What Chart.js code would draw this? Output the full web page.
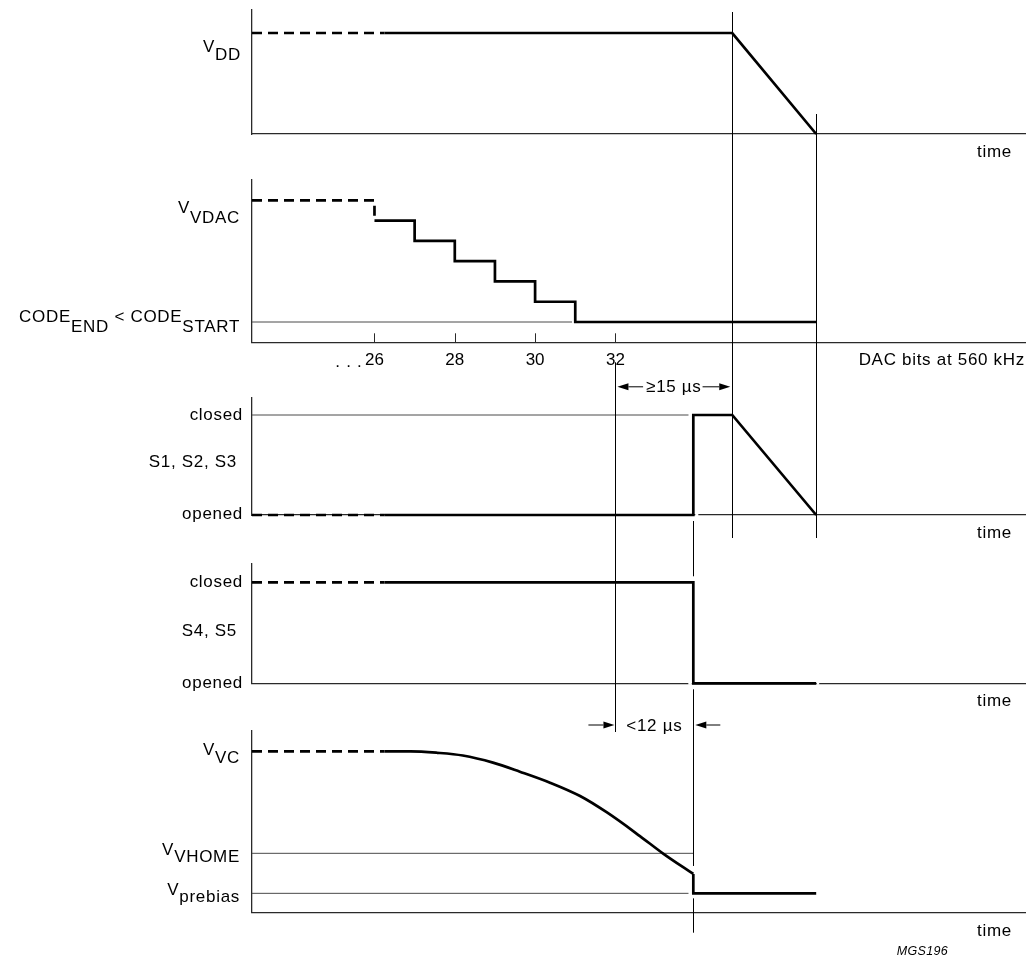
<!DOCTYPE html>
<html>
<head>
<meta charset="utf-8">
<script src="https://cdn.jsdelivr.net/npm/chart.js@4/dist/chart.umd.min.js"></script>
<style>
  html, body { margin: 0; padding: 0; background: #fff; }
  #wrap { position: relative; width: 1030px; height: 961px; }
  #wrap canvas { position: absolute; left: 0; top: 0; }
</style>
</head>
<body>
<div id="wrap">
  <canvas id="p0" width="1030" height="961"></canvas>
  <canvas id="p1" width="1030" height="961"></canvas>
  <canvas id="p2" width="1030" height="961"></canvas>
  <canvas id="p3" width="1030" height="961"></canvas>
  <canvas id="p4" width="1030" height="961"></canvas>
</div>
<script>
// time is counted in DAC bit periods (560 kHz), same axis for all five traces
var timeMin = 22.95;
var timeMax = 42.2;
var dashEnd = 26.25;

var vddTime = [26.25, 34.91, 37];
var vddLevel = [1, 1, 0];

var dacBits = [26, 27, 28, 29, 30, 31, 37];
var dacCode = [5, 4, 3, 2, 1, 0, 0];
var dacStart = 6;
var dacEnd = 0;
var dacTicks = [26, 28, 30, 32];

var s123Time = [26.25, 33.94, 33.94, 34.91, 37];
var s123State = [0, 0, 1, 1, 0];

var s45Time = [26.25, 33.94, 33.94, 37];
var s45State = [1, 1, 0, 0];

var vcTime = [26.25, 26.9, 27.56, 28.2, 28.95, 29.62, 30.37, 31.12, 31.79, 32.61, 33.18, 33.94];
var vcLevel = [1, 1, 0.991, 0.974, 0.93, 0.874, 0.806, 0.723, 0.621, 0.475, 0.368, 0.24];
var vcDropTime = [33.94, 33.94, 37];
var vcDropLevel = [0.24, 0.12, 0.12];
var vHome = 0.368;
var vPrebias = 0.12;

// event times
var tBit32 = 32;
var tSwitch = 33.94;
var tVddOff = 34.91;
var tVddZero = 37;

var FONT = "17px 'Liberation Sans', Arial, sans-serif";
var INK = '#000';
var AXIS = '#2a2a2a';
var REF = '#4a4a4a';

Chart.defaults.font.family = "'Liberation Sans', Arial, sans-serif";
Chart.defaults.font.size = 17;
Chart.defaults.color = '#000';

var charts = [];

function pts(xs, ys) {
  var out = [];
  for (var i = 0; i < xs.length; i++) {
    out.push({ x: xs[i], y: ys[i] });
  }
  return out;
}

function signal(xs, ys, dashed, stepped) {
  return {
    data: pts(xs, ys),
    borderColor: INK,
    borderWidth: 2.7,
    borderDash: dashed ? [10, 6] : [],
    borderJoinStyle: 'miter',
    stepped: !!stepped,
    pointRadius: 0,
    fill: false,
    tension: 0,
    clip: false
  };
}

function curve(xs, ys) {
  var ds = signal(xs, ys);
  ds.cubicInterpolationMode = 'monotone';
  return ds;
}

function refLine(x0, x1, y) {
  return {
    data: pts([x0, x1], [y, y]),
    borderColor: REF,
    borderWidth: 1,
    pointRadius: 0,
    fill: false,
    clip: false
  };
}

var panels = [
  {
    top: 10, bottom: 134, yMin: 0, yMax: 1.228,
    datasets: [signal([timeMin, dashEnd], [1, 1], true), signal(vddTime, vddLevel)],
    labels: [{ parts: [['V', 0], ['DD', 8]], at: 1, dy: 19, right: 241 }],
    title: { text: 'time', right: 1012 }
  },
  {
    top: 180, bottom: 342.3, yMin: -1, yMax: 7,
    datasets: [
      signal([timeMin, 26, 26], [dacStart, dacStart, dacCode[0]], true),
      signal(dacBits, dacCode, false, true),
      refLine(timeMin, 30.92, dacEnd)
    ],
    labels: [
      { parts: [['V', 0], ['VDAC', 10]], at: dacStart, dy: 12.5, right: 240 },
      { parts: [['CODE', 0], ['END', 10], [' < CODE', 0], ['START', 10]], at: dacEnd, dy: 0, right: 240 }
    ],
    title: { text: 'DAC bits at 560 kHz', right: 1025 },
    ticks: dacTicks
  },
  {
    top: 398, bottom: 515, yMin: 0, yMax: 1.17,
    datasets: [
      signal([timeMin, dashEnd], [0, 0], true),
      signal(s123Time, s123State),
      refLine(timeMin, 33.82, 1)
    ],
    labels: [
      { parts: [['closed', 0]], at: 1, dy: 5, right: 243 },
      { parts: [['S1, S2, S3', 0]], at: 0.5, dy: 2, right: 237 },
      { parts: [['opened', 0]], at: 0, dy: 4, right: 243 }
    ],
    title: { text: 'time', right: 1012 },
    breaks: [[tSwitch, 2, 5]]
  },
  {
    top: 564, bottom: 683.3, yMin: 0, yMax: 1.181,
    datasets: [
      signal([timeMin, dashEnd], [1, 1], true),
      signal(s45Time, s45State)
    ],
    labels: [
      { parts: [['closed', 0]], at: 1, dy: 5, right: 243 },
      { parts: [['S4, S5', 0]], at: 0.5, dy: 3, right: 237 },
      { parts: [['opened', 0]], at: 0, dy: 4.5, right: 243 }
    ],
    title: { text: 'time', right: 1012 },
    breaks: [[tSwitch, -5, -1.6], [tVddZero, 0.6, 3]]
  },
  {
    top: 731, bottom: 912.7, yMin: 0, yMax: 1.126,
    datasets: [
      signal([timeMin, dashEnd], [1, 1], true),
      curve(vcTime, vcLevel),
      signal(vcDropTime, vcDropLevel),
      refLine(timeMin, tSwitch, vHome),
      refLine(timeMin, 33.82, vPrebias)
    ],
    labels: [
      { parts: [['V', 0], ['VC', 8]], at: 1, dy: 4, right: 240 },
      { parts: [['V', 0], ['VHOME', 7]], at: vHome, dy: 2, right: 240 },
      { parts: [['V', 0], ['prebias', 7]], at: vPrebias, dy: 2, right: 240 }
    ],
    title: { text: 'time', right: 1012 }
  }
];

// vertical timing guides: [panel, 'top' | 'bottom' | value, pixel nudge]
var guides = [
  { x: tVddOff, from: [0, 'top', 2], to: [2, 'bottom', 23] },
  { x: tVddZero, from: [0, 'bottom', -20], to: [2, 'bottom', 23] },
  { x: tBit32, from: [1, 'bottom', 20], to: [4, 'top', 1] },
  { x: tSwitch, from: [2, 'bottom', 6], to: [3, 1, -6] },
  { x: tSwitch, from: [3, 'bottom', 6], to: [4, 0.24, -8] },
  { x: tSwitch, from: [4, vPrebias, 5], to: [4, 'bottom', 20] }
];

var spans = [
  { from: tBit32, to: tVddOff, panel: 1, dy: 44.5, text: '\u226515 \u00b5s', outward: true },
  { from: tBit32, to: tSwitch, panel: 3, dy: 41.7, text: '<12 \u00b5s', outward: false }
];

function yAt(ref) {
  var c = charts[ref[0]];
  var y;
  if (ref[1] === 'top') {
    y = c.chartArea.top;
  } else if (ref[1] === 'bottom') {
    y = c.chartArea.bottom;
  } else {
    y = c.scales.y.getPixelForValue(ref[1]);
  }
  return y + ref[2];
}

function setText(ctx, font) {
  ctx.font = font || FONT;
  ctx.letterSpacing = '0.7px';
  ctx.fillStyle = INK;
  ctx.textAlign = 'left';
  ctx.textBaseline = 'alphabetic';
}

function arrow(ctx, fromX, toX, y) {
  var dir = toX > fromX ? 1 : -1;
  var head = 11;
  ctx.beginPath();
  ctx.moveTo(fromX, y);
  ctx.lineTo(toX - dir * head, y);
  ctx.stroke();
  ctx.beginPath();
  ctx.moveTo(toX, y);
  ctx.lineTo(toX - dir * head, y - 3.5);
  ctx.lineTo(toX - dir * head, y + 3.5);
  ctx.closePath();
  ctx.fill();
}

var panelText = {
  id: 'panelText',
  afterInit: function (chart, args, opts) {
    charts[opts.index] = chart;
  },
  afterLayout: function (chart) {
    // x scale was fitted with zero height; give its label clip box room again
    var xs = chart.scales.x;
    xs.bottom = xs.top + 60;
  },
  afterDraw: function (chart, args, opts) {
    var p = panels[opts.index];
    var ctx = chart.ctx;
    var yScale = chart.scales.y;
    var xScale = chart.scales.x;
    var area = chart.chartArea;
    ctx.save();

    // small white breaks in the axis next to the switching edges
    if (p.breaks) {
      ctx.strokeStyle = '#fff';
      ctx.lineWidth = 3;
      for (var b = 0; b < p.breaks.length; b++) {
        var bx = xScale.getPixelForValue(p.breaks[b][0]);
        ctx.beginPath();
        ctx.moveTo(bx + p.breaks[b][1], area.bottom);
        ctx.lineTo(bx + p.breaks[b][2], area.bottom);
        ctx.stroke();
      }
    }

    setText(ctx);
    for (var i = 0; i < p.labels.length; i++) {
      var lab = p.labels[i];
      var base = yScale.getPixelForValue(lab.at) + lab.dy;
      var total = 0;
      for (var j = 0; j < lab.parts.length; j++) {
        total += ctx.measureText(lab.parts[j][0]).width;
      }
      var x = lab.right - total;
      for (var j = 0; j < lab.parts.length; j++) {
        ctx.fillText(lab.parts[j][0], x, base + lab.parts[j][1]);
        x += ctx.measureText(lab.parts[j][0]).width;
      }
    }

    ctx.textAlign = 'right';
    ctx.fillText(p.title.text, p.title.right, area.bottom + 23);

    if (p.ticks) {
      ctx.strokeStyle = AXIS;
      ctx.lineWidth = 1;
      for (var k = 0; k < p.ticks.length; k++) {
        var tx = Math.round(xScale.getPixelForValue(p.ticks[k])) + 0.5;
        ctx.beginPath();
        ctx.moveTo(tx, area.bottom);
        ctx.lineTo(tx, area.bottom - 9);
        ctx.stroke();
      }
      ctx.fillText('. . .', xScale.getPixelForValue(p.ticks[0]) - 12, area.bottom + 24.5);
    }
    ctx.restore();
  }
};

var crossGuides = {
  id: 'crossGuides',
  afterDraw: function (chart) {
    var ctx = chart.ctx;
    var xScale = chart.scales.x;
    ctx.save();
    ctx.strokeStyle = INK;
    ctx.fillStyle = INK;
    ctx.lineWidth = 1;
    for (var i = 0; i < guides.length; i++) {
      var g = guides[i];
      var gx = Math.round(xScale.getPixelForValue(g.x)) + 0.5;
      ctx.beginPath();
      ctx.moveTo(gx, yAt(g.from));
      ctx.lineTo(gx, yAt(g.to));
      ctx.stroke();
    }

    setText(ctx);
    ctx.textAlign = 'center';
    for (var s = 0; s < spans.length; s++) {
      var sp = spans[s];
      var x1 = xScale.getPixelForValue(sp.from);
      var x2 = xScale.getPixelForValue(sp.to);
      var y = charts[sp.panel].chartArea.bottom + sp.dy;
      var mid = (x1 + x2) / 2;
      var half = ctx.measureText(sp.text).width / 2;
      ctx.fillText(sp.text, mid, y + 5.5);
      if (sp.outward) {
        arrow(ctx, mid - half - 3, x1 + 2, y);
        arrow(ctx, mid + half + 1, x2 - 2, y);
      } else {
        arrow(ctx, x1 - 27, x1 - 1, y);
        arrow(ctx, x2 + 27, x2 + 2, y);
      }
    }

    ctx.font = "italic 12.5px 'Liberation Sans', Arial, sans-serif";
    ctx.letterSpacing = '0.3px';
    ctx.textAlign = 'right';
    ctx.fillText('MGS196', 948, chart.chartArea.bottom + 42.3);
    ctx.restore();
  }
};

function makeChart(index) {
  var p = panels[index];
  var xTicks = p.ticks ? {
    display: true,
    autoSkip: false,
    padding: 8,
    color: INK,
    font: { size: 17 },
    maxRotation: 0,
    callback: function (v) { return String(v); }
  } : { display: false };

  var plugins = [panelText];
  if (index === panels.length - 1) {
    plugins.push(crossGuides);
  }

  return new Chart(document.getElementById('p' + index), {
    type: 'line',
    data: { datasets: p.datasets },
    options: {
      responsive: false,
      animation: false,
      events: [],
      layout: { padding: { left: 252, right: 5, top: p.top, bottom: 961 - p.bottom } },
      plugins: {
        legend: { display: false },
        tooltip: { enabled: false },
        panelText: { index: index }
      },
      scales: {
        x: {
          type: 'linear',
          min: timeMin,
          max: timeMax,
          grid: { display: false, drawTicks: false },
          border: { display: true, color: AXIS, width: 1.3 },
          ticks: xTicks,
          afterBuildTicks: function (scale) {
            if (p.ticks) {
              scale.ticks = p.ticks.map(function (v) { return { value: v }; });
            }
          },
          afterFit: function (scale) { scale.height = 0; }
        },
        y: {
          type: 'linear',
          min: p.yMin,
          max: p.yMax,
          grid: { display: false, drawTicks: false },
          border: { display: true, color: AXIS, width: 1.3 },
          ticks: { display: false },
          afterFit: function (scale) { scale.width = 0; }
        }
      }
    },
    plugins: plugins
  });
}

for (var i = 0; i < panels.length; i++) {
  makeChart(i);
}
</script>
</body>
</html>
